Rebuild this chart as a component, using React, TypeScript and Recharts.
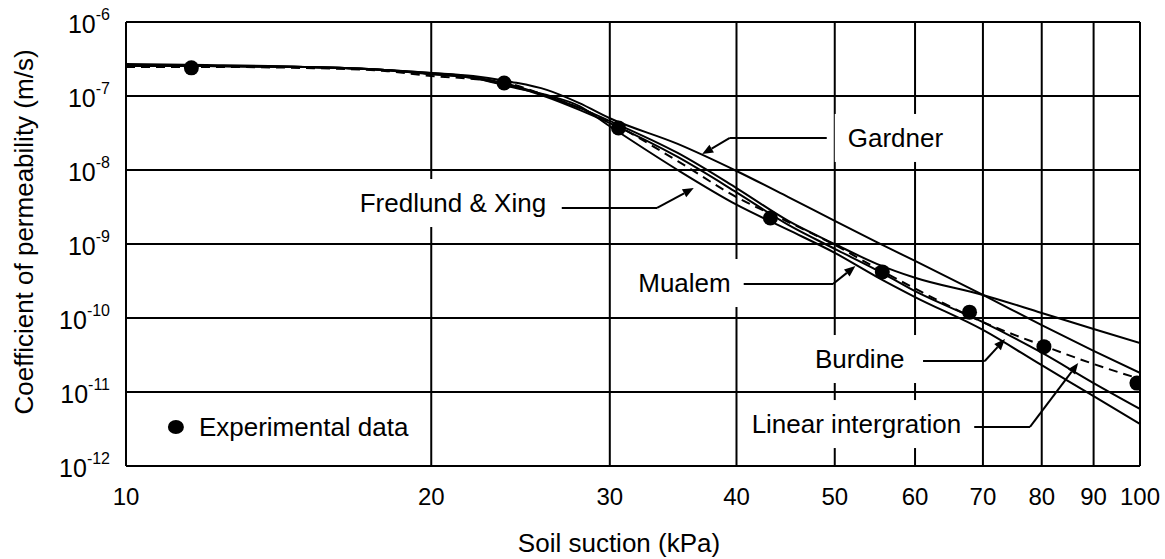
import React from 'react';
import { ComposedChart, Line, XAxis, YAxis, CartesianGrid, ReferenceLine, ReferenceDot } from 'recharts';

const FONT = "'Liberation Sans', Arial, sans-serif";

// soil suction (kPa) sample points used by every model curve
const suction = [10, 12, 15, 18, 20, 22, 24, 26, 28, 30, 35, 40, 45, 50, 55, 60, 70, 80, 90, 100];

// coefficient of permeability (m/s), one list per model
const gardner = [2.71e-7, 2.62e-7, 2.47e-7, 2.25e-7, 2.05e-7, 1.86e-7, 1.55e-7, 1.21e-7, 8.0e-8, 5.0e-8, 2.25e-8, 9.7e-9, 4.3e-9, 2.05e-9, 1.06e-9, 5.9e-10, 2.05e-10, 8.0e-11, 3.6e-11, 1.81e-11];
const mualem = [2.54e-7, 2.54e-7, 2.47e-7, 2.25e-7, 2.05e-7, 1.81e-7, 1.41e-7, 1.0e-7, 6.9e-8, 4.6e-8, 1.7e-8, 5.7e-9, 2.05e-9, 1.0e-9, 5.4e-10, 3.5e-10, 2.05e-10, 1.17e-10, 7.1e-11, 4.6e-11];
const burdine = [2.54e-7, 2.54e-7, 2.47e-7, 2.25e-7, 1.98e-7, 1.75e-7, 1.36e-7, 9.7e-8, 6.5e-8, 4.3e-8, 1.5e-8, 5.0e-9, 1.81e-9, 8.6e-10, 4.45e-10, 2.3e-10, 8.8e-11, 3.4e-11, 1.32e-11, 5.9e-12];
const fredlundXing = [2.54e-7, 2.54e-7, 2.47e-7, 2.25e-7, 1.98e-7, 1.75e-7, 1.32e-7, 1.03e-7, 7.3e-8, 3.9e-8, 1.0e-8, 3.4e-9, 1.55e-9, 7.6e-10, 3.6e-10, 1.92e-10, 6.9e-11, 2.3e-11, 8.8e-12, 3.7e-12];
const linearIntegration = [2.47e-7, 2.47e-7, 2.39e-7, 2.18e-7, 1.86e-7, 1.7e-7, 1.45e-7, 1.0e-7, 6.9e-8, 4.45e-8, 1.32e-8, 4.3e-9, 1.98e-9, 9.7e-10, 4.7e-10, 2.5e-10, 8.8e-11, 4.3e-11, 2.39e-11, 1.5e-11];

// experimental data
const expSuction = [11.6, 23.6, 30.6, 43.2, 55.7, 67.9, 80.4, 99.3];
const expPermeability = [2.4e-7, 1.5e-7, 3.7e-8, 2.25e-9, 4.2e-10, 1.2e-10, 4.1e-11, 1.32e-11];

const xTicks = [10, 20, 30, 40, 50, 60, 70, 80, 90, 100];
const yTicks = [1e-12, 1e-11, 1e-10, 1e-9, 1e-8, 1e-7, 1e-6];

// annotation labels (left edge, vertical centre) and their leader lines
const labels = [
  { text: 'Gardner', x: 51.5, y: 2.71e-8 },
  { text: 'Fredlund & Xing', x: 17.0, y: 3.58e-9 },
  { text: 'Mualem', x: 32.0, y: 2.97e-10 },
  { text: 'Burdine', x: 47.8, y: 2.79e-11 },
  { text: 'Linear intergration', x: 41.4, y: 3.69e-12 },
];
const leaders = [
  [[49.1, 2.71e-8], [39.4, 2.71e-8], [37.0, 1.64e-8]],
  [[26.9, 3.07e-9], [33.4, 3.07e-9], [36.3, 5.71e-9]],
  [[40.6, 2.88e-10], [49.8, 2.88e-10], [52.4, 5.04e-10]],
  [[61.1, 2.62e-11], [70.3, 2.62e-11], [73.6, 5.2e-11]],
  [[67.9, 3.37e-12], [77.9, 3.37e-12], [86.9, 2.46e-11]],
];
const legendPos = { x: 11.2, y: 3.37e-12 };

const toPoints = (xs: number[], ys: number[]) => xs.map((x, i) => ({ x, y: ys[i] }));

let canvasCtx: CanvasRenderingContext2D | null = null;
function textWidth(s: string, size: number) {
  if (!canvasCtx) canvasCtx = document.createElement('canvas').getContext('2d');
  if (!canvasCtx) return s.length * size * 0.55;
  canvasCtx.font = `${size}px ${FONT}`;
  return canvasCtx.measureText(s).width;
}

const PowerTick = (props: any) => {
  const { x, y, payload } = props;
  const exp = Math.round(Math.log10(payload.value));
  return (
    <text x={x} y={y + 2} textAnchor="end" dominantBaseline="central" fill="#000" fontFamily={FONT}>
      <tspan fontSize={25}>10</tspan>
      <tspan fontSize={16} dy={-10}>{exp}</tspan>
    </text>
  );
};

const Arrow = (props: any) => {
  const { x1, y1, x2, y2 } = props;
  const a = Math.atan2(y2 - y1, x2 - x1);
  const L = 11;
  const W = 4.5;
  const bx = x2 - L * Math.cos(a);
  const by = y2 - L * Math.sin(a);
  const px = -Math.sin(a) * W;
  const py = Math.cos(a) * W;
  return (
    <g>
      <line x1={x1} y1={y1} x2={bx} y2={by} stroke="#000" strokeWidth={2} />
      <polygon points={`${x2},${y2} ${bx + px},${by + py} ${bx - px},${by - py}`} fill="#000" />
    </g>
  );
};

const makeLabel = (text: string) => (props: any) => {
  const { cx, cy } = props;
  const w = textWidth(text, 26);
  return (
    <g>
      <rect x={cx - 13} y={cy - 24} width={w + 26} height={48} fill="#fff" />
      <text x={cx} y={cy} dominantBaseline="central" fontSize={26} fontFamily={FONT} fill="#000">
        {text}
      </text>
    </g>
  );
};

const LegendShape = (props: any) => {
  const { cx, cy } = props;
  return (
    <g>
      <ellipse cx={cx} cy={cy} rx={8} ry={7} fill="#000" />
      <text x={cx + 23} y={cy} dominantBaseline="central" fontSize={26} fontFamily={FONT} fill="#000">
        Experimental data
      </text>
    </g>
  );
};

const XTitle = () => (
  <text x={619} y={543} textAnchor="middle" dominantBaseline="central" fontSize={26} fontFamily={FONT} fill="#000">
    Soil suction (kPa)
  </text>
);

const YTitle = () => (
  <text transform="translate(24,232) rotate(-90)" textAnchor="middle" dominantBaseline="central" fontSize={26} fontFamily={FONT} fill="#000">
    Coefficient of permeability (m/s)
  </text>
);

export default function App() {
  const models = [
    { name: 'Gardner', values: gardner, dash: undefined },
    { name: 'Mualem', values: mualem, dash: undefined },
    { name: 'Burdine', values: burdine, dash: undefined },
    { name: 'Fredlund & Xing', values: fredlundXing, dash: undefined },
    { name: 'Linear intergration', values: linearIntegration, dash: '9 6' },
  ];
  const expData = toPoints(expSuction, expPermeability);

  return (
    <div style={{ position: 'absolute', left: 0, top: 0, width: 1165, height: 559, background: '#fff' }}>
      <ComposedChart width={1165} height={559} margin={{ top: 22, right: 25, bottom: 33, left: 0 }}>
        <CartesianGrid stroke="#000" strokeWidth={2} />
        <XAxis
          dataKey="x"
          type="number"
          scale="log"
          domain={[10, 100]}
          ticks={xTicks}
          interval={0}
          allowDataOverflow
          height={60}
          tickSize={0}
          tickMargin={22}
          axisLine={{ stroke: '#000', strokeWidth: 2 }}
          tick={{ fill: '#000', fontSize: 24, fontFamily: FONT }}
          label={{ content: XTitle }}
        />
        <YAxis
          dataKey="y"
          type="number"
          scale="log"
          domain={[1e-12, 1e-6]}
          ticks={yTicks}
          interval={0}
          allowDataOverflow
          width={126}
          tickSize={0}
          tickMargin={16}
          axisLine={{ stroke: '#000', strokeWidth: 2 }}
          tick={<PowerTick />}
          label={{ content: YTitle }}
        />
        {labels.map((l) => (
          <ReferenceDot key={l.text} x={l.x} y={l.y} r={1} shape={makeLabel(l.text)} />
        ))}
        <ReferenceDot x={legendPos.x} y={legendPos.y} r={1} shape={LegendShape} />
        {leaders.map((pts, i) =>
          pts.slice(1).map((p, j) => (
            <ReferenceLine
              key={`${i}-${j}`}
              segment={[{ x: pts[j][0], y: pts[j][1] }, { x: p[0], y: p[1] }]}
              stroke="#000"
              strokeWidth={2}
              shape={j === pts.length - 2 ? Arrow : undefined}
            />
          ))
        )}
        {models.map((m) => (
          <Line
            key={m.name}
            name={m.name}
            data={toPoints(suction, m.values)}
            dataKey="y"
            type="monotone"
            stroke="#000"
            strokeWidth={2}
            strokeDasharray={m.dash}
            dot={false}
            activeDot={false}
            isAnimationActive={false}
          />
        ))}
        <Line
          name="Experimental data"
          data={expData}
          dataKey="y"
          stroke="none"
          dot={{ r: 7.5, fill: '#000', stroke: 'none' }}
          activeDot={false}
          isAnimationActive={false}
        />
      </ComposedChart>
    </div>
  );
}
